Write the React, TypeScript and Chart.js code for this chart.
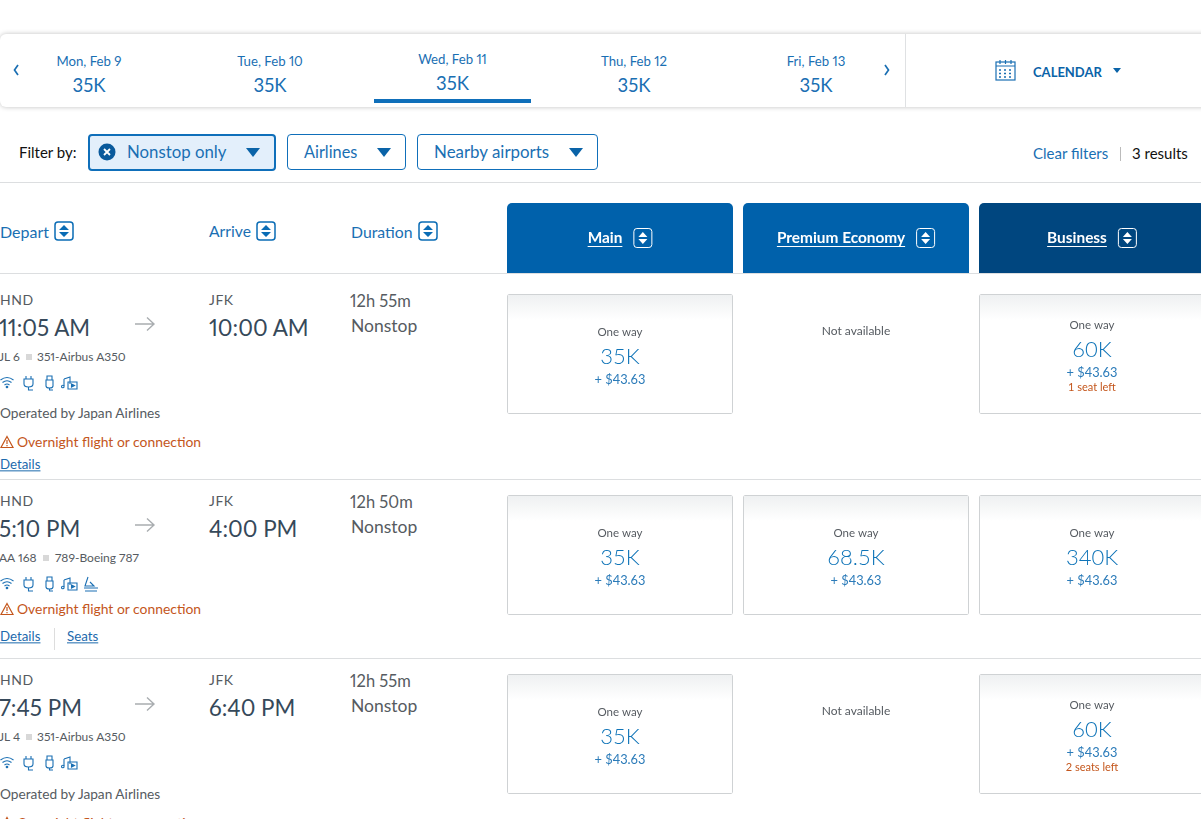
import React, { useEffect, useRef } from "react";
import { Chart, registerables } from "chart.js";

Chart.register(...registerables);

const dateLabels = ["Mon, Feb 9", "Tue, Feb 10", "Wed, Feb 11", "Thu, Feb 12", "Fri, Feb 13"];
const dateFares = ["35K", "35K", "35K", "35K", "35K"];
const cabins = ["Main", "Premium Economy", "Business"];
const origins = ["HND", "HND", "HND"];
const destinations = ["JFK", "JFK", "JFK"];
const departTimes = ["11:05 AM", "5:10 PM", "7:45 PM"];
const arriveTimes = ["10:00 AM", "4:00 PM", "6:40 PM"];
const durations = ["12h 55m", "12h 50m", "12h 55m"];
const flightNumbers = ["JL 6", "AA 168", "JL 4"];
const aircraft = ["351-Airbus A350", "789-Boeing 787", "351-Airbus A350"];
const operators = ["Operated by Japan Airlines", "", "Operated by Japan Airlines"];
const milesRow1 = [35, null, 60];
const milesRow2 = [35, 68.5, 340];
const milesRow3 = [35, null, 60];
const taxUsd = 43.63;
const seatNotesRow1 = ["", "", "1 seat left"];
const seatNotesRow2 = ["", "", ""];
const seatNotesRow3 = ["", "", "2 seats left"];
const allMiles = [milesRow1, milesRow2, milesRow3];
const allSeats = [seatNotesRow1, seatNotesRow2, seatNotesRow3];

const FONT = "Lato, 'Open Sans', sans-serif";
const BLUE = "#1a6fb3";
const GREY = "#565b61";
const DARK = "#36495a";
const ORANGE = "#c4561c";

type TP = { x: number; y: number; s: number; c: string; t: string; center?: boolean; w?: number; u?: boolean; ls?: number };
const T = ({ x, y, s, c, t, center, w, u, ls }: TP) => (
  <div
    style={{
      position: "absolute",
      left: x,
      top: y,
      fontSize: s,
      color: c,
      fontFamily: FONT,
      fontWeight: w ?? 400,
      fontVariantNumeric: "proportional-nums",
      whiteSpace: "nowrap",
      lineHeight: 1,
      letterSpacing: ls ?? 0,
      textDecoration: u ? "underline" : "none",
      transform: `translate(${center ? "-50%" : "0"}, -50%)`,
    }}
  >
    {t}
  </div>
);

const Box = ({ l, t, w, h, bg }: { l: number; t: number; w: number; h: number; bg: string }) => (
  <div style={{ position: "absolute", left: l, top: t, width: w, height: h, background: bg }} />
);

const Sort = ({ x, y }: { x: number; y: number }) => (
  <svg style={{ position: "absolute", left: x, top: y }} width="20" height="20" viewBox="0 0 20 20">
    <rect x="1" y="1" width="18" height="18" rx="3" fill="#fff" stroke="#0a6cb5" strokeWidth="1.5" />
    <path d="M10 4 L15 9 L5 9 Z M10 16 L15 11 L5 11 Z" fill="#0a6cb5" />
  </svg>
);

const Tri = ({ x, y, w = 14, h = 9, c = "#0a63a8" }: { x: number; y: number; w?: number; h?: number; c?: string }) => (
  <svg style={{ position: "absolute", left: x, top: y }} width={w} height={h} viewBox={`0 0 ${w} ${h}`}>
    <path d={`M0 0 L${w} 0 L${w / 2} ${h} Z`} fill={c} />
  </svg>
);

const Chevron = ({ x, d }: { x: number; d: string }) => (
  <svg style={{ position: "absolute", left: x, top: 64 }} width="6" height="12" viewBox="0 0 6 12" fill="none" stroke={BLUE} strokeWidth="1.7">
    <path d={d} />
  </svg>
);

const Amenities = ({ y, seat }: { y: number; seat: boolean }) => (
  <svg style={{ position: "absolute", left: 0, top: y }} width="100" height="16" viewBox="0 0 100 16" fill="none" stroke="#1a6fb3" strokeWidth="1.1">
    <path d="M0.5 5 Q7 0 13.5 5 M2.5 7.5 Q7 4 11.5 7.5 M4.5 10 Q7 8 9.5 10" />
    <circle cx="7" cy="12" r="0.8" fill="#1a6fb3" />
    <path d="M26 1 V4 M31 1 V4 M24 4 H33 V9 Q33 12 28.5 12 Q24 12 24 9 Z M28.5 12 V15 H33" />
    <path d="M47 1 H52 V5 H47 Z M46 5 H53 V11 Q53 13 49.5 13 Q46 13 46 11 Z M49.5 13 V15 H53" />
    <path d="M64 4 V11 M64 4 L70 2 V9" />
    <circle cx="62.8" cy="11.5" r="1.3" />
    <path d="M68 7 H77 V14 H68 Z" />
    <path d="M71.5 9 L74.5 10.5 L71.5 12 Z" fill="#1a6fb3" />
    {seat && <path d="M88 1 L85 10 H94 L90 6 M84 12 H98 M85 15 H97" />}
  </svg>
);

const Warn = ({ y }: { y: number }) => (
  <>
    <svg style={{ position: "absolute", left: 0, top: y - 7 }} width="14" height="14" viewBox="0 0 14 14" fill="none" stroke={ORANGE} strokeWidth="1.2">
      <path d="M7 1.5 L13 12.5 H1 Z M7 5 V9 M7 10 V11.2" />
    </svg>
    <T x={17} y={y} s={13.9} c={ORANGE} t="Overnight flight or connection" />
  </>
);

const tax = () => `+ $${taxUsd.toFixed(2)}`;

function drawCentered(c: CanvasRenderingContext2D, text: string, x: number, y: number, font: string, color: string) {
  c.font = font;
  c.fillStyle = color;
  c.textAlign = "center";
  c.textBaseline = "middle";
  c.fillText(text, x, y);
}

const CARD_BAR = 226 / 236;

function FareRow({ miles, seats }: { miles: (number | null)[]; seats: string[] }) {
  const ref = useRef<HTMLCanvasElement>(null);
  useEffect(() => {
    const labelPlugin = {
      id: "fareLabels",
      afterDatasetsDraw(chart: any) {
        const c = chart.ctx as CanvasRenderingContext2D;
        const xs = chart.scales.x;
        c.save();
        miles.forEach((m, i) => {
          const x = xs.getPixelForValue(i);
          if (m === null) {
            drawCentered(c, "Not available", x, 37, `400 12px ${FONT}`, GREY);
            return;
          }
          const shift = seats[i] ? -7 : 0;
          drawCentered(c, "One way", x, 38 + shift, `400 11.5px ${FONT}`, GREY);
          drawCentered(c, `${m}K`, x, 63 + shift, `300 22px ${FONT}`, "#0f74b8");
          drawCentered(c, tax(), x, 85.5 + shift, `400 12.8px ${FONT}`, "#2b7bb9");
          if (seats[i]) drawCentered(c, seats[i], x, 93, `400 11px ${FONT}`, ORANGE);
        });
        c.restore();
      },
    };
    const chart = new Chart(ref.current!, {
      type: "bar",
      data: {
        labels: cabins,
        datasets: [
          {
            data: miles.map((m) => (m === null ? null : 1)),
            barPercentage: CARD_BAR,
            categoryPercentage: 1,
            borderWidth: 1,
            borderColor: "#cfd2d4",
            borderRadius: 2,
            borderSkipped: false,
            backgroundColor: (ctx: any) => {
              const a = ctx.chart.chartArea;
              if (!a) return "#fff";
              const g = ctx.chart.ctx.createLinearGradient(0, a.top, 0, a.top + 26);
              g.addColorStop(0, "#eef0f1");
              g.addColorStop(1, "#ffffff");
              return g;
            },
          },
        ],
      },
      options: {
        responsive: false,
        animation: false,
        events: [],
        layout: { padding: 0 },
        plugins: { legend: { display: false }, tooltip: { enabled: false } },
        scales: { x: { display: false }, y: { display: false, min: 0, max: 1 } },
      },
      plugins: [labelPlugin],
    } as any);
    return () => chart.destroy();
  }, [miles, seats]);
  return <canvas ref={ref} width={708} height={120} style={{ display: "block" }} />;
}

function CabinHeader() {
  const ref = useRef<HTMLCanvasElement>(null);
  useEffect(() => {
    const labelPlugin = {
      id: "cabinLabels",
      afterDatasetsDraw(chart: any) {
        const c = chart.ctx as CanvasRenderingContext2D;
        const xs = chart.scales.x;
        const yc = 35;
        c.save();
        cabins.forEach((name, i) => {
          const cx = xs.getPixelForValue(i);
          c.font = `700 15.4px ${FONT}`;
          const tw = c.measureText(name).width;
          const left = cx - (tw + 30) / 2;
          c.fillStyle = "#fff";
          c.textAlign = "left";
          c.textBaseline = "middle";
          c.fillText(name, left, yc);
          c.fillRect(left, yc + 8, tw, 1);
          const ix = left + tw + 11;
          c.strokeStyle = "#fff";
          c.lineWidth = 1;
          c.beginPath();
          (c as any).roundRect(ix + 0.5, yc - 9.5, 18, 19, 3);
          c.stroke();
          c.beginPath();
          c.moveTo(ix + 9.5, yc - 6);
          c.lineTo(ix + 14, yc - 1);
          c.lineTo(ix + 5, yc - 1);
          c.closePath();
          c.moveTo(ix + 9.5, yc + 6);
          c.lineTo(ix + 14, yc + 1);
          c.lineTo(ix + 5, yc + 1);
          c.closePath();
          c.fill();
        });
        c.restore();
      },
    };
    const chart = new Chart(ref.current!, {
      type: "bar",
      data: {
        labels: cabins,
        datasets: [
          {
            data: cabins.map(() => 1),
            barPercentage: CARD_BAR,
            categoryPercentage: 1,
            borderWidth: 0,
            borderRadius: { topLeft: 5, topRight: 5, bottomLeft: 0, bottomRight: 0 },
            borderSkipped: false,
            backgroundColor: ["#0061ab", "#0061ab", "#00467f"],
          },
        ],
      },
      options: {
        responsive: false,
        animation: false,
        events: [],
        layout: { padding: 0 },
        plugins: { legend: { display: false }, tooltip: { enabled: false } },
        scales: { x: { display: false }, y: { display: false, min: 0, max: 1 } },
      },
      plugins: [labelPlugin],
    } as any);
    return () => chart.destroy();
  }, []);
  return <canvas ref={ref} width={708} height={70} style={{ display: "block" }} />;
}

const dateCentres = [89, 270, 452.5, 634, 816];
const rowTops = [294, 495, 674];

export default function App() {
  useEffect(() => {
    document.body.style.margin = "0";
    document.documentElement.style.overflow = "hidden";
    document.body.style.overflow = "hidden";
  }, []);
  return (
    <div style={{ position: "relative", width: 1201, height: 819, overflow: "hidden", background: "#fff" }}>
      {/* date strip */}
      <div
        style={{
          position: "absolute",
          left: 0,
          top: 34,
          width: 1215,
          height: 73,
          borderRadius: 6,
          background: "#fff",
          boxShadow: "0 0 5px rgba(0,0,0,0.25)",
        }}
      />
      <Box l={905} t={34} w={1} h={73} bg="#dfe1e3" />
      <Chevron x={13} d="M5 1 L1.5 6 L5 11" />
      <Chevron x={884} d="M1 1 L4.5 6 L1 11" />
      {dateLabels.map((d, i) => (
        <React.Fragment key={d}>
          <T x={dateCentres[i]} y={i === 2 ? 60 : 62} s={13.2} c={BLUE} t={d} center />
          <T x={dateCentres[i]} y={i === 2 ? 83 : 85} s={18.5} c={BLUE} t={dateFares[i]} center />
        </React.Fragment>
      ))}
      <Box l={374} t={99} w={157} h={4} bg="#0f6fba" />
      <svg style={{ position: "absolute", left: 995, top: 58 }} width="22" height="24" viewBox="0 0 22 24" fill="none" stroke="#1a6fb3" strokeWidth="1.2">
        <rect x="1" y="4" width="19" height="18" />
        <path d="M1 8 H20 M5 2 V6 M10.5 2 V6 M16 2 V6" />
        <path d="M4 12 H6 M9 12 H11 M14 12 H16 M4 15.5 H6 M9 15.5 H11 M14 15.5 H16 M4 19 H6 M9 19 H11 M14 19 H16" strokeWidth="1.6" />
      </svg>
      <T x={1033} y={72} s={13} c="#0a63a8" t="CALENDAR" w={700} />
      <Tri x={1113} y={68} w={8} h={5} />

      {/* filters */}
      <T x={19} y={152} s={15} c="#111" t="Filter by:" />
      <div style={{ position: "absolute", left: 88, top: 134, width: 184, height: 33, border: "2px solid #0f6fba", borderRadius: 4, background: "#e3effb", boxSizing: "content-box" }} />
      <svg style={{ position: "absolute", left: 98, top: 143 }} width="18" height="18" viewBox="0 0 18 18">
        <circle cx="9" cy="9" r="8.5" fill="#0a5a9c" />
        <path d="M6 6 L12 12 M12 6 L6 12" stroke="#fff" strokeWidth="1.8" />
      </svg>
      <T x={127} y={151.5} s={16.8} c={BLUE} t="Nonstop only" />
      <Tri x={246} y={148} />
      <div style={{ position: "absolute", left: 287, top: 134, width: 117, height: 34, border: "1px solid #0f6fba", borderRadius: 4 }} />
      <T x={304} y={151.5} s={16.3} c={BLUE} t="Airlines" />
      <Tri x={377} y={148} />
      <div style={{ position: "absolute", left: 417, top: 134, width: 179, height: 34, border: "1px solid #0f6fba", borderRadius: 4 }} />
      <T x={434} y={151.5} s={16.9} c={BLUE} t="Nearby airports" />
      <Tri x={569} y={148} />
      <T x={1033} y={152.5} s={15} c={BLUE} t="Clear filters" />
      <Box l={1120} t={147} w={1} h={14} bg="#bbb" />
      <T x={1132} y={152.5} s={15} c="#111" t="3 results" />
      <Box l={0} t={182} w={1201} h={1} bg="#dcdee0" />

      {/* column headers */}
      <T x={0} y={232} s={16} c={BLUE} t="Depart" />
      <Sort x={54} y={221} />
      <T x={209} y={232} s={15.7} c={BLUE} t="Arrive" />
      <Sort x={256} y={221} />
      <T x={351} y={232} s={15.8} c={BLUE} t="Duration" />
      <Sort x={418} y={221} />
      <div style={{ position: "absolute", left: 502, top: 203 }}>
        <CabinHeader />
      </div>
      <Box l={0} t={273} w={1201} h={1} bg="#dcdee0" />

      {/* flights */}
      {rowTops.map((t, i) => {
        const isSecond = i === 1;
        return (
          <React.Fragment key={departTimes[i]}>
            <T x={0} y={t + 6} s={14} c={GREY} t={origins[i]} ls={0.5} />
            <T x={-1} y={t + 34} s={22.4} c={DARK} t={departTimes[i]} />
            <svg style={{ position: "absolute", left: 135, top: t + 22 }} width="21" height="16" viewBox="0 0 21 16" fill="none" stroke="#a9adb0" strokeWidth="1.4">
              <path d="M0 8 H19 M12 1.5 L19 8 L12 14.5" />
            </svg>
            <T x={209} y={t + 6} s={14} c={GREY} t={destinations[i]} ls={0.5} />
            <T x={209} y={t + 34} s={22.4} c={DARK} t={arriveTimes[i]} />
            <T x={350} y={t + 7} s={16.5} c={GREY} t={durations[i]} />
            <T x={351} y={t + 32} s={17.5} c={GREY} t="Nonstop" />
            <T x={-1} y={t + 63} s={12} c={GREY} t={flightNumbers[i]} />
            <Box l={isSecond ? 43 : 26} t={t + 60} w={6} h={6} bg="#d8d8d8" />
            <T x={isSecond ? 55 : 37} y={t + 63} s={12} c={GREY} t={aircraft[i]} />
            <Amenities y={t + 81} seat={isSecond} />
            {operators[i] && <T x={0} y={t + (i === 2 ? 120 : 119)} s={13.7} c={GREY} t={operators[i]} />}
            <Warn y={i === 0 ? t + 148 : isSecond ? t + 114 : t + 149} />
            {i !== 2 && <T x={0} y={i === 0 ? t + 171 : t + 142} s={13.3} c="#1d6aad" t="Details" u />}
            {isSecond && <Box l={54} t={t + 133} w={1} h={22} bg="#ddd" />}
            {isSecond && <T x={67} y={t + 142} s={13.3} c="#1d6aad" t="Seats" u />}
            <div style={{ position: "absolute", left: 502, top: t }}>
              <FareRow miles={allMiles[i]} seats={allSeats[i]} />
            </div>
          </React.Fragment>
        );
      })}
      <Box l={0} t={479} w={1201} h={1} bg="#dcdee0" />
      <Box l={0} t={658} w={1201} h={1} bg="#dcdee0" />
    </div>
  );
}
